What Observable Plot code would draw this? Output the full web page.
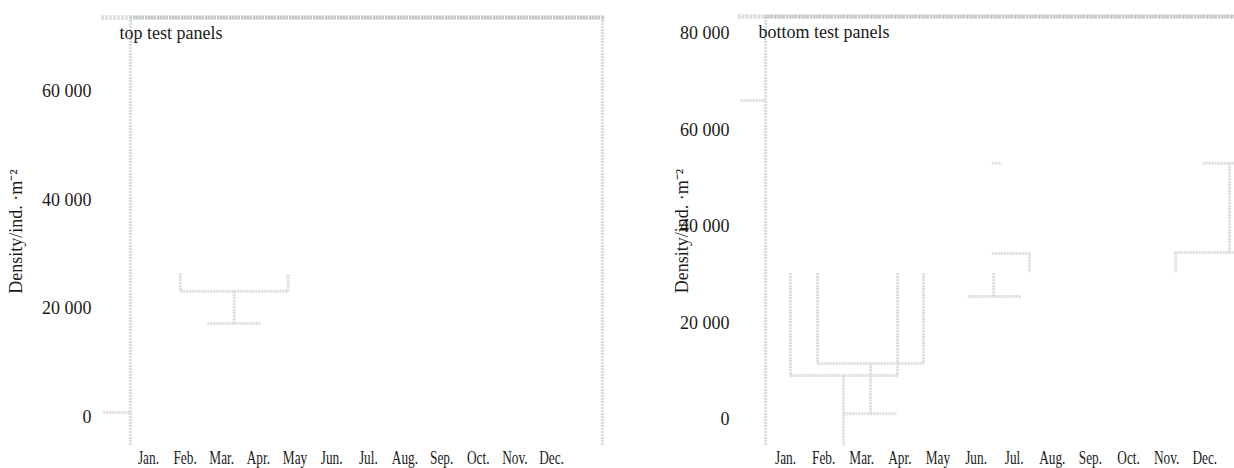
<!DOCTYPE html>
<html>
<head>
<meta charset="utf-8">
<script src="https://cdn.jsdelivr.net/npm/d3@7"></script>
<script src="https://cdn.jsdelivr.net/npm/@observablehq/plot@0.6"></script>
<style>
  html, body { margin: 0; padding: 0; background: #ffffff; overflow: hidden; }
  #wrap { display: flex; width: 1234px; height: 468px; }
  #wrap svg { display: block; flex: none; }
</style>
</head>
<body>
<div id="wrap"></div>
<script>
// ---------- shared labels ----------
const months = ["Jan.", "Feb.", "Mar.", "Apr.", "May", "Jun.", "Jul.", "Aug.", "Sep.", "Oct.", "Nov.", "Dec."];
const monthTicks = [1, 2, 3, 4, 5, 6, 7, 8, 9, 10, 11, 12];
const yAxisLabel = "Density/ind. ·m⁻²";

// ---------- top test panels (left) ----------
const topTitle = "top test panels";
const topYTicks = [0, 20000, 40000, 60000];
const topXDomain = [0.51, 13.39];
const topYDomain = [-5150, 73530];
// segments (month position, density)
const topX1 = [-0.23, 1.87, 1.87, 4.81, 3.34, 2.61];
const topY1 = [900, 26500, 23200, 23200, 23200, 17300];
const topX2 = [0.54, 1.87, 4.81, 4.81, 3.34, 4.05];
const topY2 = [900, 23200, 23200, 26500, 17300, 17300];
const topCapX = [-0.28, 13.46];

// ---------- bottom test panels (right) ----------
const botTitle = "bottom test panels";
const botYTicks = [0, 20000, 40000, 60000, 80000];
const botXDomain = [0.475, 12.78];
const botYDomain = [-5390, 83520];
const botX1 = [-0.18, 1.13, 1.84, 3.94, 4.62, 1.84, 1.13, 2.52, 3.23, 2.52, 6.41, 6.41, 7.40, 6.46, 5.78, 11.94, 12.65, 11.21, 11.24];
const botY1 = [66100, 30300, 30300, 30300, 30300, 11600, 9100, 9100, 11600, 1200, 53100, 34400, 34400, 30300, 25500, 53100, 53100, 34600, 34600];
const botX2 = [0.475, 1.13, 1.84, 3.94, 4.62, 4.62, 3.94, 2.52, 3.23, 3.91, 6.67, 7.40, 7.40, 6.46, 7.17, 12.78, 12.65, 12.78, 11.24];
const botY2 = [66100, 9100, 11600, 9100, 11600, 11600, 9100, -5400, 1200, 1200, 53100, 34400, 30500, 25500, 25500, 53100, 34600, 34600, 30500];
const botCapX = [-0.24, 12.78];

// ---------- helpers ----------
const fmt = d3.formatLocale({decimal: ".", thousands: " ", grouping: [3], currency: ["", ""]}).format(",");
const lineColor = "#d8dcdf";
const capColor = "#dadee1";
const frameColor = "#c3c9cd";

function segs(x1, y1, x2, y2) {
  return x1.map((_, i) => ({x1: x1[i], y1: y1[i], x2: x2[i], y2: y2[i]}));
}

function panel({width, marginLeft, marginRight, marginTop, xDomain, yDomain, yTicks, title, titleDx,
                tickPadding, labelOffset, data, capX, rightFrame}) {
  const marks = [
    // left frame edge
    Plot.ruleX([xDomain[0]], {y1: yDomain[0], y2: yDomain[1], stroke: lineColor, strokeWidth: 3, strokeDasharray: "2,1"}),
    // cap line along the top
    Plot.ruleY([yDomain[1]], {x1: capX[0], x2: capX[1], stroke: capColor, strokeWidth: 4.5, strokeDasharray: "3,1"}),
    Plot.ruleY([yDomain[1]], {x1: xDomain[0], x2: capX[1], stroke: frameColor, strokeWidth: 3.5, strokeDasharray: "2,1"}),
    // step segments
    Plot.link(data, {x1: "x1", y1: "y1", x2: "x2", y2: "y2", stroke: lineColor, strokeWidth: 3, strokeDasharray: "2,1"}),
    Plot.axisX({ticks: monthTicks, tickFormat: d => months[d - 1], tickSize: 0, tickPadding: 6, label: null, fontSize: 18}),
    Plot.axisY({ticks: yTicks, tickFormat: fmt, tickSize: 0, tickPadding, label: yAxisLabel,
                labelAnchor: "center", labelOffset, labelArrow: "none", fontSize: 18}),
    Plot.text([title], {text: d => d, frameAnchor: "top-left", textAnchor: "start", lineAnchor: "middle",
                        dx: titleDx, dy: 16, fontSize: 18, fill: "#1a1a1a"})
  ];
  if (rightFrame) {
    marks.unshift(Plot.ruleX([xDomain[1]], {y1: yDomain[0], y2: yDomain[1], stroke: lineColor, strokeWidth: 3, strokeDasharray: "2,1"}));
  }
  const svg = Plot.plot({
    width, height: 468,
    marginLeft, marginRight, marginTop, marginBottom: 23,
    x: {domain: xDomain, label: null},
    y: {domain: yDomain, label: null},
    style: {fontFamily: "'Liberation Serif', 'Times New Roman', serif", fontSize: "18px", color: "#1a1a1a", background: "#ffffff", overflow: "visible"},
    marks
  });
  // month labels are set in a horizontally condensed face
  svg.querySelectorAll('[aria-label="x-axis tick label"] text').forEach(t => {
    const tr = t.getAttribute("transform") || "";
    t.setAttribute("transform", tr + " scale(0.74,1)");
  });
  return svg;
}

const wrap = document.getElementById("wrap");
wrap.appendChild(panel({
  width: 617, marginLeft: 130, marginRight: 15, marginTop: 17,
  xDomain: topXDomain, yDomain: topYDomain, yTicks: topYTicks, title: topTitle, titleDx: -11,
  tickPadding: 39, labelOffset: 121,
  data: segs(topX1, topY1, topX2, topY2), capX: topCapX, rightFrame: true
}));
wrap.appendChild(panel({
  width: 617, marginLeft: 148, marginRight: 0, marginTop: 16,
  xDomain: botXDomain, yDomain: botYDomain, yTicks: botYTicks, title: botTitle, titleDx: -7,
  tickPadding: 36, labelOffset: 90,
  data: segs(botX1, botY1, botX2, botY2), capX: botCapX, rightFrame: false
}));
</script>
</body>
</html>
